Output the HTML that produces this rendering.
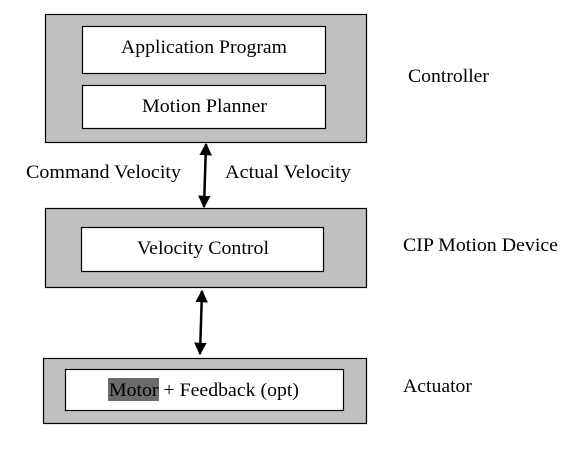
<!DOCTYPE html>
<html><head><style>html,body{margin:0;padding:0;background:#fff}svg{display:block}</style></head>
<body>
<svg width="569" height="454" xmlns="http://www.w3.org/2000/svg" font-family="Liberation Serif, serif" font-size="19" fill="#000">
<defs>
<marker id="a" viewBox="0 0 10 10" refX="9" refY="5" markerWidth="5" markerHeight="5" orient="auto-start-reverse"><path d="M0,0 L10,5 L0,10 z" fill="#000"/></marker>
</defs>
<rect x="45.5" y="14.5" width="321" height="128" fill="#c0c0c0" stroke="#000" stroke-width="1.2"/>
<rect x="82.5" y="26.5" width="243" height="47" fill="#fff" stroke="#000" stroke-width="1.2"/>
<rect x="82.5" y="85.5" width="243" height="43" fill="#fff" stroke="#000" stroke-width="1.2"/>
<text x="121" y="53" textLength="166" lengthAdjust="spacingAndGlyphs">Application Program</text>
<text x="142" y="112" textLength="125" lengthAdjust="spacingAndGlyphs">Motion Planner</text>

<line x1="206" y1="144" x2="204" y2="207" stroke="#000" stroke-width="2.5" marker-start="url(#a)" marker-end="url(#a)"/>
<text x="26" y="178" textLength="155" lengthAdjust="spacingAndGlyphs">Command Velocity</text>
<text x="225" y="178" textLength="126" lengthAdjust="spacingAndGlyphs">Actual Velocity</text>

<rect x="45.5" y="208.5" width="321" height="79" fill="#c0c0c0" stroke="#000" stroke-width="1.2"/>
<rect x="81.5" y="227.5" width="242" height="44" fill="#fff" stroke="#000" stroke-width="1.2"/>
<text x="137" y="254" textLength="132" lengthAdjust="spacingAndGlyphs">Velocity Control</text>

<line x1="202" y1="291" x2="200" y2="354" stroke="#000" stroke-width="2.5" marker-start="url(#a)" marker-end="url(#a)"/>

<rect x="43.5" y="358.5" width="323" height="65" fill="#c0c0c0" stroke="#000" stroke-width="1.2"/>
<rect x="65.5" y="369.5" width="278" height="41" fill="#fff" stroke="#000" stroke-width="1.2"/>
<rect x="108" y="378" width="51" height="23" fill="#6b6b6b"/>
<text x="109" y="396" textLength="190" lengthAdjust="spacingAndGlyphs">Motor + Feedback (opt)</text>

<text x="408" y="82" textLength="81" lengthAdjust="spacingAndGlyphs">Controller</text>
<text x="403" y="251" textLength="155" lengthAdjust="spacingAndGlyphs">CIP Motion Device</text>
<text x="403" y="392" textLength="69" lengthAdjust="spacingAndGlyphs">Actuator</text>
</svg>
</body></html>
